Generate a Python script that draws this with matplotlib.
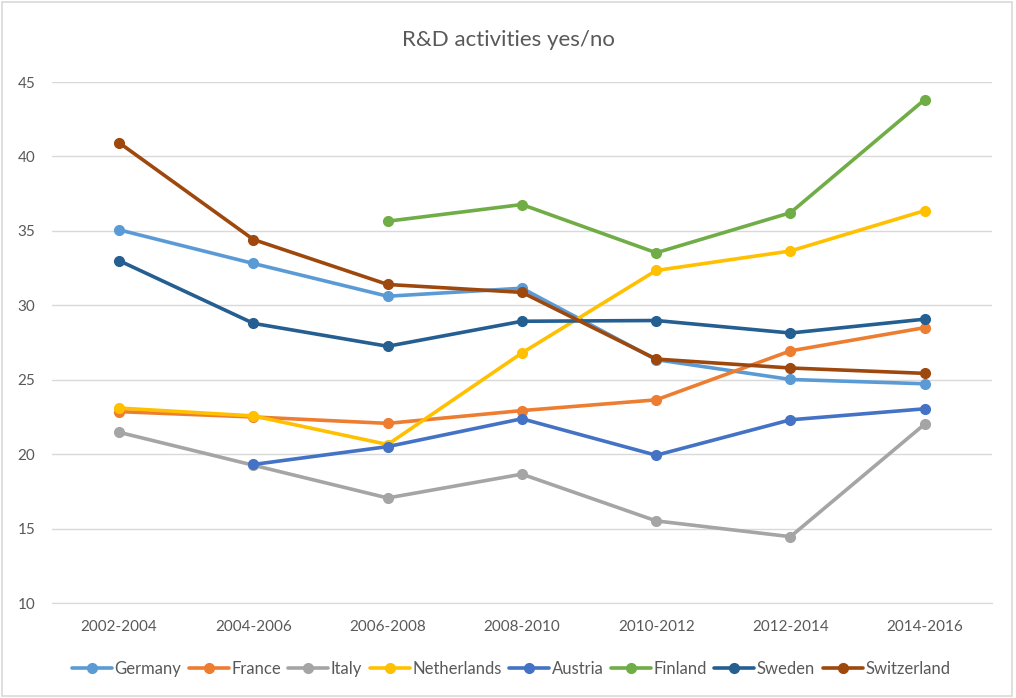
import numpy as np
import matplotlib
matplotlib.use("Agg")
import matplotlib.pyplot as plt
from matplotlib.patches import Rectangle

plt.rcParams['font.family'] = ['Lato', 'DejaVu Sans']

periods = ["2002-2004", "2004-2006", "2006-2008", "2008-2010", "2010-2012", "2012-2014", "2014-2016"]
countries = ["Germany", "France", "Italy", "Netherlands", "Austria", "Finland", "Sweden", "Switzerland"]

germany = [35.07, 32.81, 30.61, 31.15, 26.35, 25.02, 24.73]
france = [22.86, 22.5, 22.07, 22.93, 23.65, 26.94, 28.5]
italy = [21.47, 19.26, 17.06, 18.66, 15.52, 14.46, 22.02]
netherlands = [23.1, 22.57, 20.65, 26.8, 32.34, 33.65, 36.36]
austria = [np.nan, 19.31, 20.51, 22.38, 19.93, 22.31, 23.05]
finland = [np.nan, np.nan, 35.65, 36.77, 33.53, 36.22, 43.82]
sweden = [33.0, 28.79, 27.25, 28.93, 28.98, 28.14, 29.07]
switzerland = [40.92, 34.42, 31.4, 30.87, 26.39, 25.79, 25.43]

colors = ["#5B9BD5", "#ED7D31", "#A5A5A5", "#FFC000", "#4472C4", "#70AD47", "#255E91", "#9E480E"]
series = [germany, france, italy, netherlands, austria, finland, sweden, switzerland]

fig = plt.figure(figsize=(10.16, 6.98), dpi=100)
ax = fig.add_axes([0.0512, 0.136, 0.925, 0.7465])

x = np.arange(len(periods))
for name, vals, c in zip(countries, series, colors):
    ax.plot(x, vals, color=c, lw=2.6, marker="o", ms=7, label=name,
            solid_capstyle="round")

ax.set_xlim(-0.5, len(periods) - 0.5)
ax.set_ylim(10, 45)
ax.set_yticks(range(10, 46, 5))
ax.set_xticks(x)
ax.set_xticklabels(periods)
ax.grid(axis="y", color="#D9D9D9", lw=1)
ax.set_axisbelow(True)
for s in ["top", "right", "left"]:
    ax.spines[s].set_visible(False)
ax.spines["bottom"].set_color("#D9D9D9")
ax.tick_params(axis="both", length=0, colors="#595959", labelsize=11)
ax.tick_params(axis="x", pad=12)
ax.tick_params(axis="y", pad=12)

fig.suptitle("R&D activities yes/no", y=0.957, fontsize=16, color="#595959")

fig.legend(loc="center", bbox_to_anchor=(0.503, 0.042), ncol=8, frameon=False,
           fontsize=12, labelcolor="#595959", handlelength=2.4, handletextpad=0.15,
           columnspacing=0.45)

fig.patches.append(Rectangle((0.002, 0.003), 0.994, 0.994, transform=fig.transFigure,
                             fill=False, edgecolor="#D9D9D9", lw=1.2))

fig.savefig("out.png", dpi=100)
